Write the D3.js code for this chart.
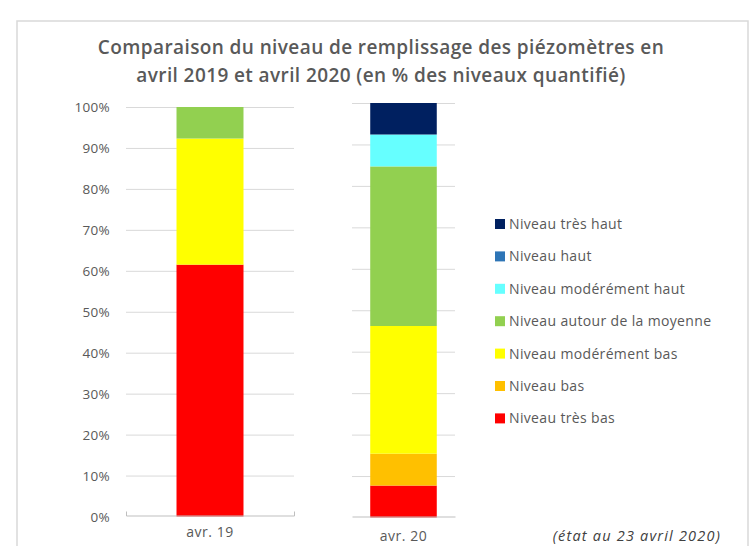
<!DOCTYPE html>
<html>
<head>
<meta charset="utf-8">
<script src="https://cdn.jsdelivr.net/npm/d3@7"></script>
<style>
  body { margin: 0; background: #fff; }
  text { font-family: "Open Sans", "Liberation Sans", sans-serif; }
</style>
</head>
<body>
<script>
// series, bottom to top
const levels = ['Niveau très bas', 'Niveau bas', 'Niveau modérément bas',
    'Niveau autour de la moyenne', 'Niveau modérément haut', 'Niveau haut', 'Niveau très haut'];
const levelColors = ['#ff0000', '#ffc000', '#ffff00', '#92d050', '#66ffff', '#2e75b6', '#002060'];

const categories = ['avr. 19', 'avr. 20'];
// % of piezometers for each level
const avr19 = [61.5, 0, 30.8, 7.7, 0, 0, 0];
const avr20 = [7.7, 7.7, 30.8, 38.5, 7.7, 0, 7.6];

const yTicks = [0, 10, 20, 30, 40, 50, 60, 70, 80, 90, 100];

const titleLines = ['Comparaison du niveau de remplissage des piézomètres en',
    'avril 2019 et avril 2020 (en % des niveaux quantifié)'];
const note = '(état au 23 avril 2020)';

const width = 752,
    height = 546;

const svg = d3.select('body').append('svg')
    .attr('width', width)
    .attr('height', height);

// outer frame
svg.append('rect')
    .attr('x', 17).attr('y', 21)
    .attr('width', 731).attr('height', 600)
    .attr('fill', 'none')
    .attr('stroke', '#d9d9d9')
    .attr('stroke-width', 1.5);

svg.append('g').selectAll('text')
    .data(titleLines)
    .enter().append('text')
    .attr('x', 381)
    .attr('y', function (d, i) { return 54 + i * 28; })
    .attr('text-anchor', 'middle')
    .attr('font-size', 19)
    .attr('font-weight', 600)
    .attr('letter-spacing', 0.4)
    .attr('fill', '#595959')
    .text(function (d) { return d; });

// the picture is two charts put side by side, each with its own frame
const panels = [
    {cat: categories[0], values: avr19, x: [126, 294], y: [516.5, 107], pad: 0.754, labels: true, labelY: 537},
    {cat: categories[1], values: avr20, x: [352, 455], y: [517.5, 103], pad: 0.274, labels: false, labelY: 541}
];

panels.forEach(function (p) {
    const x = d3.scaleBand()
        .domain([p.cat])
        .range(p.x)
        .paddingOuter(p.pad);

    const y = d3.scaleLinear()
        .domain([0, 100])
        .range(p.y);

    const g = svg.append('g');

    // grid
    g.append('g')
        .call(d3.axisLeft(y)
            .tickValues(yTicks.slice(1))
            .tickSize(-(p.x[1] - p.x[0]))
            .tickFormat(''))
        .attr('transform', 'translate(' + p.x[0] + ',0)')
        .call(function (a) {
            a.select('.domain').remove();
            a.selectAll('line').attr('stroke', '#d9d9d9');
        });

    if (p.labels) {
        g.append('g').selectAll('text')
            .data(yTicks)
            .enter().append('text')
            .attr('x', 110)
            .attr('y', function (d) { return y(d) + 5; })
            .attr('text-anchor', 'end')
            .attr('font-size', 13.5)
            .attr('letter-spacing', 0.3)
            .attr('fill', '#595959')
            .text(function (d) { return d + '%'; });
    }

    const stacked = d3.stack()
        .keys(d3.range(levels.length))
        ([p.values]);

    g.append('g').selectAll('rect')
        .data(stacked.filter(function (s) { return s[0][1] > s[0][0]; }))
        .enter().append('rect')
        .attr('x', x(p.cat))
        .attr('width', x.bandwidth())
        .attr('y', function (s) { return y(s[0][1]); })
        .attr('height', function (s) { return y(s[0][0]) - y(s[0][1]); })
        .attr('fill', function (s) { return levelColors[s.key]; });

    // category axis
    const ax = g.append('g')
        .attr('transform', 'translate(0,' + y(0) + ')')
        .call(d3.axisBottom(x).tickSize(0).tickSizeOuter(p.labels ? 5 : 0).tickFormat(''));
    ax.select('.domain').attr('stroke', '#bfbfbf').attr('transform', 'scale(1,-1)');

    g.append('text')
        .attr('x', x(p.cat) + x.bandwidth() / 2)
        .attr('y', p.labelY)
        .attr('text-anchor', 'middle')
        .attr('font-size', 14)
        .attr('letter-spacing', 0.5)
        .attr('fill', '#595959')
        .text(p.cat);
});

// legend, top entry first
const legend = svg.append('g')
    .attr('transform', 'translate(495,224)');

const order = d3.range(levels.length).reverse();

const item = legend.selectAll('g')
    .data(order)
    .enter().append('g')
    .attr('transform', function (d, i) { return 'translate(0,' + (i * 32.4) + ')'; });

item.append('rect')
    .attr('x', 0).attr('y', -5)
    .attr('width', 10).attr('height', 10)
    .attr('fill', function (d) { return levelColors[d]; });

item.append('text')
    .attr('x', 14)
    .attr('y', 5)
    .attr('font-size', 14)
    .attr('letter-spacing', 0.35)
    .attr('fill', '#595959')
    .text(function (d) { return levels[d]; });

svg.append('text')
    .attr('x', 721)
    .attr('y', 541)
    .attr('text-anchor', 'end')
    .attr('font-size', 14.5)
    .attr('font-style', 'italic')
    .attr('letter-spacing', 1.2)
    .attr('fill', '#404040')
    .text(note);
</script>
</body>
</html>
